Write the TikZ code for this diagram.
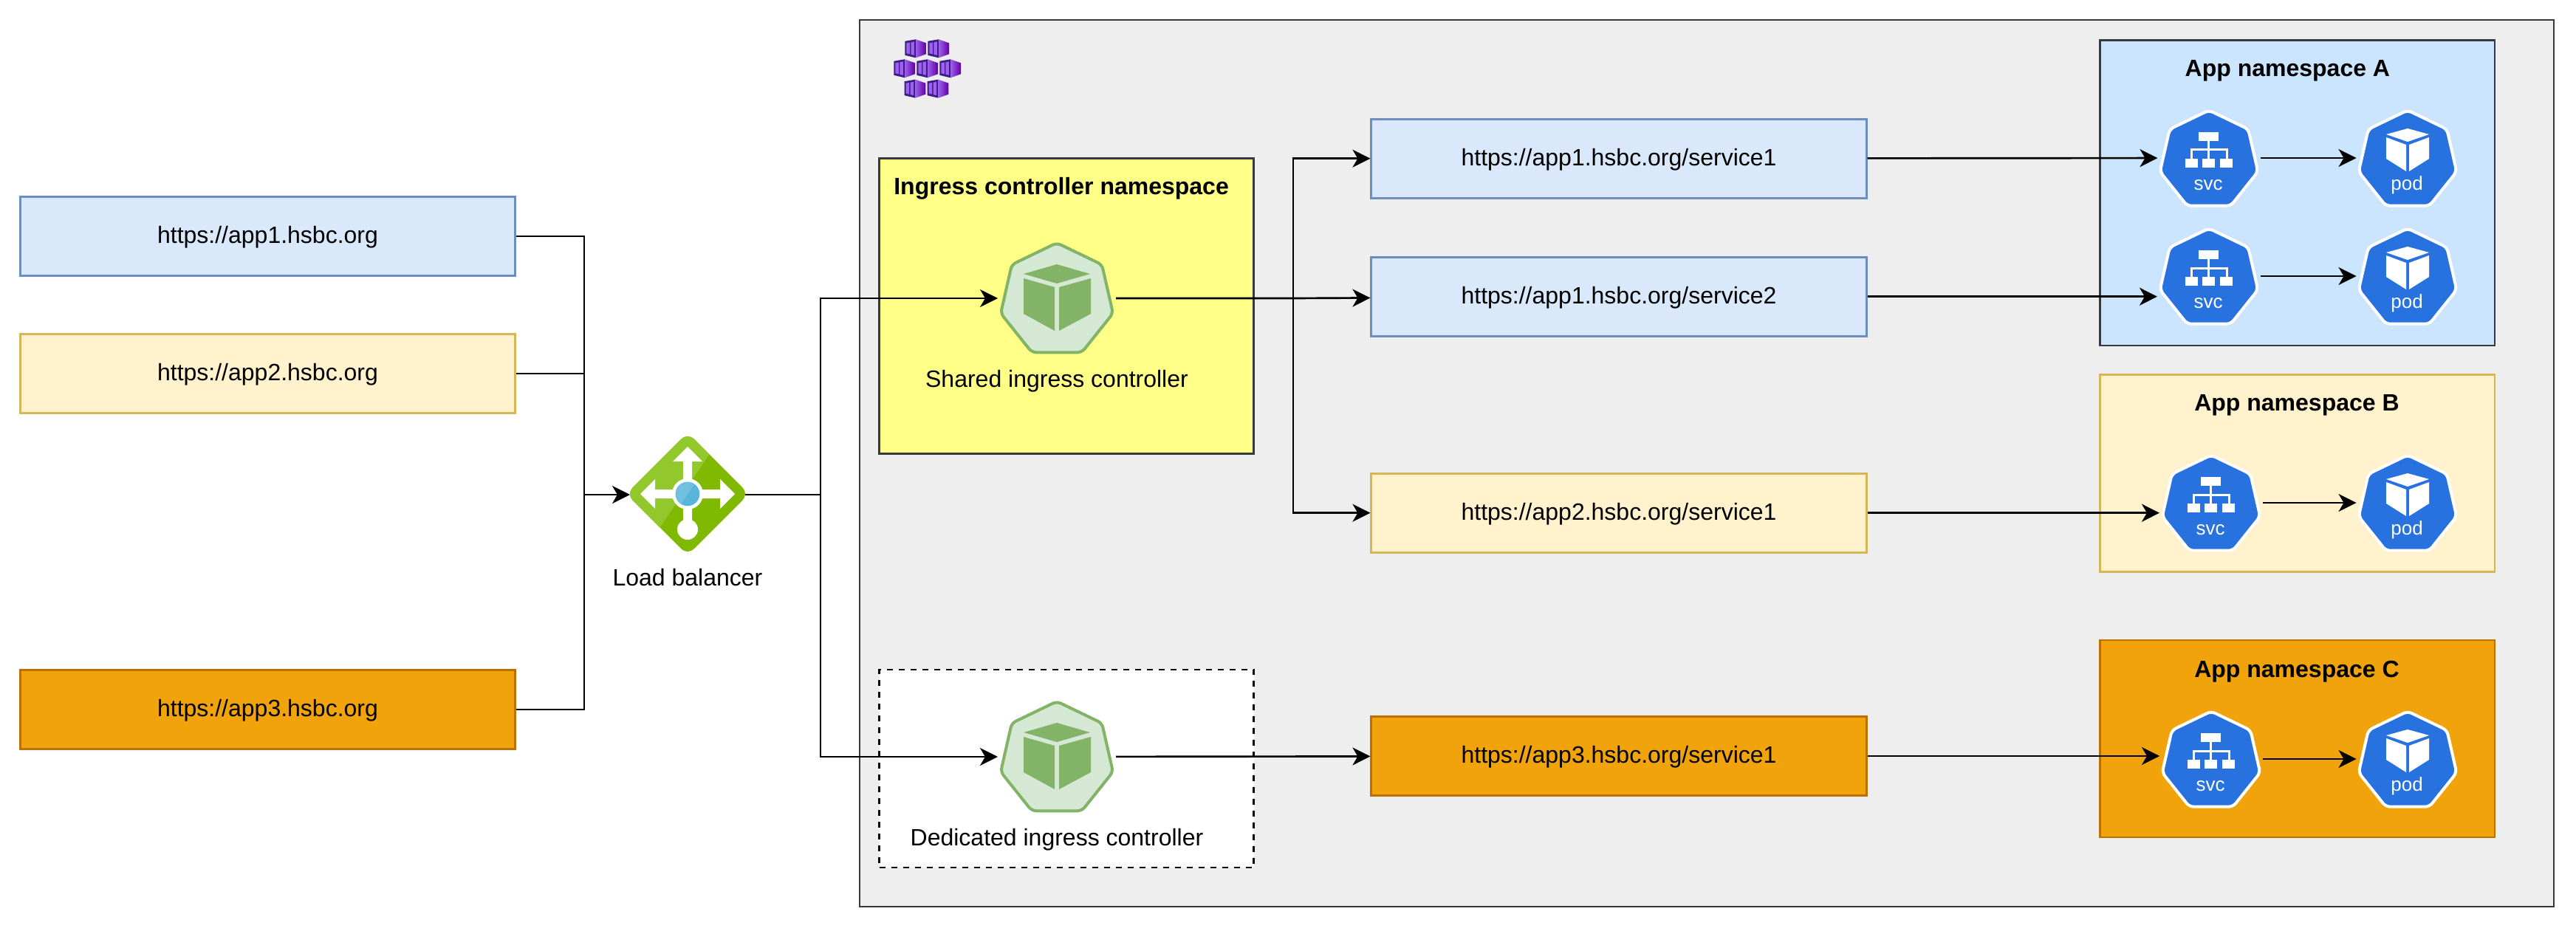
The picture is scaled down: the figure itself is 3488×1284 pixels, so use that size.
\documentclass[tikz,border=0pt]{standalone}
\usepackage{fontspec}
\setmainfont{Liberation Sans}
\usepackage{tikz}
\usetikzlibrary{
arrows.meta,
shapes.geometric,
}
\definecolor{urlblue}{HTML}{DAE8FC}
\definecolor{urlblueline}{HTML}{6C8EBF}
\definecolor{urlcream}{HTML}{FFF2CC}
\definecolor{urlcreamline}{HTML}{D6B656}
\definecolor{urlorange}{HTML}{F0A30A}
\definecolor{urlorangeline}{HTML}{BD7000}
\definecolor{darkline}{HTML}{36393D}
\definecolor{clustergray}{HTML}{EEEEEE}
\definecolor{nsyellow}{HTML}{FFFF88}
\definecolor{nsblue}{HTML}{CCE5FF}
\definecolor{kubeblue}{HTML}{2872E0}
\definecolor{ingfill}{HTML}{D5E8D4}
\definecolor{ingline}{HTML}{82B366}
\definecolor{lblight}{HTML}{92C82C}
\definecolor{lbdark}{HTML}{7FBA00}
\definecolor{lbblue}{HTML}{59B4D9}
\definecolor{lbsky}{HTML}{72C0DF}
\definecolor{aksdark}{HTML}{3A1C82}
\definecolor{akspane}{HTML}{9E60F0}
\tikzset{every picture/.style={x=1pt,y=-1pt,line width=2.67pt}}
\tikzset{txt/.style = {font=\fontsize{32}{38}\selectfont,inner sep=0pt,text height=27pt,text depth=8pt}}
\tikzset{title/.style = {txt,font=\fontsize{32}{38}\selectfont\bfseries}}
\tikzset{icontxt/.style = {font=\fontsize{26}{30}\selectfont,text=white,inner sep=0pt,anchor=base}}
\tikzset{box/.style = {shape=rectangle,draw,txt,minimum width=670.5pt,minimum height=107pt}}
\tikzset{bluebox/.style = {box,fill=urlblue,draw=urlblueline}}
\tikzset{creambox/.style = {box,fill=urlcream,draw=urlcreamline}}
\tikzset{orangebox/.style = {box,fill=urlorange,draw=urlorangeline}}
\tikzset{nsbox/.style = {shape=rectangle,draw=darkline,inner sep=0pt}}
\tikzset{svcpod/.style = {shape=rectangle,inner sep=0pt,outer sep=0pt,minimum width=139pt,minimum height=132pt}}
\tikzset{ingress/.style = {shape=rectangle,inner sep=0pt,outer sep=0pt,minimum width=160pt,minimum height=152pt}}
\tikzset{lbanchor/.style = {shape=diamond,minimum width=156pt,minimum height=156pt,inner sep=0pt,outer sep=0pt}}
\tikzset{line/.style = {line width=2.67pt}}
\tikzset{edge/.style = {line,-{Stealth[length=24pt,width=24pt,inset=7pt]}}}
\newcommand{\svcpodpath}{(0,-64.6) -- (53.2,-39) -- (66.3,18.5) -- (29.5,64.7) -- (-29.5,64.7) -- (-66.3,18.5) -- (-53.2,-39) -- cycle}
% icons, drawn around the centre of their node
\tikzset{
cubeicon/.pic={
\draw[fill=ingfill,draw=ingline,line width=4pt,rounded corners=6pt] (0,-75) -- (61,-45.6) -- (76,20.4) -- (33.8,73.3) -- (-33.8,73.3) -- (-76,20.4) -- (-61,-45.6) -- cycle;
\fill[ingline] (-45,-33) -- (0,-46) -- (45,-33) -- (0,-20) -- cycle;
\fill[ingline] (-45,-27) -- (-3,-15) -- (-3,44) -- (-45,21) -- cycle;
\fill[ingline] (3,-15) -- (46,-27) -- (46,21) -- (3,44) -- cycle;
},
svcicon/.pic={
\draw[fill=kubeblue,draw=white,line width=4pt,rounded corners=6pt] \svcpodpath;
\fill[white] (-14,-35) rectangle (13,-23);
\fill[white] (-32,1) rectangle (-15,13);
\fill[white] (-9,1) rectangle (8,13);
\fill[white] (15,1) rectangle (32,13);
\draw[white,line width=3pt] (-1,-23) -- (-1,1);
\draw[white,line width=3pt] (-24,1) -- (-24,-11) -- (24,-11) -- (24,1);
\node[icontxt] (txt) at (-1,43) {svc};
},
podicon/.pic={
\draw[fill=kubeblue,draw=white,line width=4pt,rounded corners=6pt] \svcpodpath;
\fill[white] (-29,-32) -- (0,-40) -- (29,-32) -- (0,-22) -- cycle;
\fill[white] (-29,-28) -- (-2,-18) -- (-2,18) -- (-29,1) -- cycle;
\fill[white] (2,-18) -- (29,-28) -- (29,1) -- (2,18) -- cycle;
\node[icontxt] (txt) at (-1,43) {pod};
},
lbicon/.pic={
\begin{scope}
\clip[rounded corners=12pt] (0,-83) -- (83,0) -- (0,83) -- (-83,0) -- cycle;
\fill[lbdark] (-90,-90) rectangle (90,90);
\fill[lblight] (50,-84) -- (-57,74) -- (-100,74) -- (-100,-100) -- (50,-100) -- cycle;
\end{scope}
\fill[white] (0,-64) -- (20,-44) -- (6,-44) -- (6,-6) -- (44,-6) -- (44,-20) -- (64,0)
-- (44,20) -- (44,6) -- (6,6) -- (6,40) -- (-6,40) -- (-6,6) -- (-44,6) -- (-44,20)
-- (-64,0) -- (-44,-20) -- (-44,-6) -- (-6,-6) -- (-6,-44) -- (-20,-44) -- cycle;
\fill[white] (0,48) circle (14);
\fill[white] (0,0) circle (21);
\begin{scope}
\clip (0,0) circle (16.3);
\fill[lbblue] (-20,-20) rectangle (20,20);
\fill[lbsky] (14,-20) -- (-12,18) -- (-20,18) -- (-20,-20) -- cycle;
\end{scope}
},
akscube/.pic={
\fill[aksdark] (0,2.5) -- (14.7,0) -- (14.7,25) -- (0,21.5) -- cycle;
\path[left color=akspane,right color=violet!75!blue] (14.7,0) -- (28.7,5) -- (28.7,20) -- (14.7,25) -- cycle;
\fill[akspane] (2,5) -- (6.5,4.2) -- (6.5,20) -- (2,19) -- cycle;
\fill[akspane] (8,4) -- (12.5,3) -- (12.5,21.5) -- (8,20.5) -- cycle;
},
}

\begin{document}
\begin{tikzpicture}
\useasboundingbox (0,0) rectangle (3488,1284);
% left column
\node[bluebox] (host1) at (362.5,320) {https://app1.hsbc.org};
\node[creambox] (host2) at (362.5,506) {https://app2.hsbc.org};
\node[orangebox] (host3) at (362.5,961) {https://app3.hsbc.org};
\node[lbanchor] (lb) at (931,670) {};
\pic (lbi) at ([yshift=1pt]lb) {lbicon};
\node[txt] (lbt) at (931,783.5) {Load balancer};
%
\node[nsbox,fill=clustergray,minimum width=2294pt,minimum height=1201pt] (cluster) at (2311,627.5) {};
\pic at (1225.3,53.3) {akscube};
\pic at (1256.3,53.3) {akscube};
\pic at (1210.3,80.3) {akscube};
\pic at (1241.3,80.3) {akscube};
\pic at (1272.3,80.3) {akscube};
\pic at (1224.7,107.7) {akscube};
\pic at (1255.7,107.7) {akscube};
% ingress controllers
\node[nsbox,fill=nsyellow,minimum width=507pt,minimum height=400pt] (nsing) at (1444,414.7) {};
\node[title,anchor=west] (nsingt) at (1209,254.2) {Ingress controller namespace};
\node[ingress] (shared) at (1431,404) {};
\pic (sharedi) at (shared) {cubeicon};
\node[txt] (sharedt) at (1431,514.5) {Shared ingress controller};
\node[shape=rectangle,draw,dash pattern=on 8pt off 8pt,fill=white,minimum width=507pt,minimum height=268pt] (nsded) at (1444,1041) {};
\node[ingress] (ded) at (1431,1025) {};
\pic (dedi) at (ded) {cubeicon};
\node[txt] (dedt) at (1431,1135.5) {Dedicated ingress controller};
% urls
\node[bluebox] (url1) at (2192,214.7) {https://app1.hsbc.org/service1};
\node[bluebox] (url2) at (2192,401.7) {https://app1.hsbc.org/service2};
\node[creambox] (url3) at (2192,694.7) {https://app2.hsbc.org/service1};
\node[orangebox] (url4) at (2192,1024) {https://app3.hsbc.org/service1};
% namespace A
\node[nsbox,fill=nsblue,minimum width=534.4pt,minimum height=413.3pt] (nsa) at (3110.8,261.3) {};
\node[title] (nsat) at (3097.4,94.2) {App namespace A};
\node[svcpod] (svca1) at (2991,214) {};
\pic (svca1i) at (svca1) {svcicon};
\node[svcpod] (poda1) at (3260,214) {};
\pic (poda1i) at (poda1) {podicon};
\node[svcpod] (svca2) at (2991,374) {};
\pic (svca2i) at (svca2) {svcicon};
\node[svcpod] (poda2) at (3260,374) {};
\pic (poda2i) at (poda2) {podicon};
% namespace B
\node[nsbox,fill=urlcream,draw=urlcreamline,minimum width=534.4pt,minimum height=267pt] (nsb) at (3110.8,641.2) {};
\node[title] (nsbt) at (3110,547.2) {App namespace B};
\node[svcpod] (svcb) at (2994,681) {};
\pic (svcbi) at (svcb) {svcicon};
\node[svcpod] (podb) at (3260,681) {};
\pic (podbi) at (podb) {podicon};
% namespace C
\node[nsbox,fill=urlorange,draw=urlorangeline,minimum width=534.4pt,minimum height=267pt] (nsc) at (3110.8,1000.5) {};
\node[title] (nsct) at (3110,907.5) {App namespace C};
\node[svcpod] (svcc) at (2994,1028) {};
\pic (svcci) at (svcc) {svcicon};
\node[svcpod] (podc) at (3260,1028) {};
\pic (podci) at (podc) {podicon};
% connectors
\coordinate (busl) at (791,670);
\coordinate (busr) at (1111,670);
\coordinate (buss) at (1751,404);
\coordinate (ina2) at (2921,401.7);
\coordinate (inb) at (2924,694.7);
\coordinate (inc) at (2924,1024);
\draw[line] (host1) -| (busl);
\draw[line] (host2) -| (busl);
\draw[line] (host3) -| (busl);
\draw[edge] (busl) -- (lb);
\draw[line] (lb) -- (busr);
\draw[edge] (busr) |- (shared);
\draw[edge] (busr) |- (ded);
\draw[edge] (shared) -- (buss) -- (url2);
\draw[edge] (buss) |- (url1);
\draw[edge] (buss) |- (url3);
\draw[edge] (ded) -- (url4);
\draw[edge] (url1) -- (svca1);
\draw[edge] (url2) -- (ina2);
\draw[edge] (url3) -- (inb);
\draw[edge] (url4) -- (inc);
\draw[edge] (svca1) -- (poda1);
\draw[edge] (svca2) -- (poda2);
\draw[edge] (svcb) -- (podb);
\draw[edge] (svcc) -- (podc);
\end{tikzpicture}
\end{document}
